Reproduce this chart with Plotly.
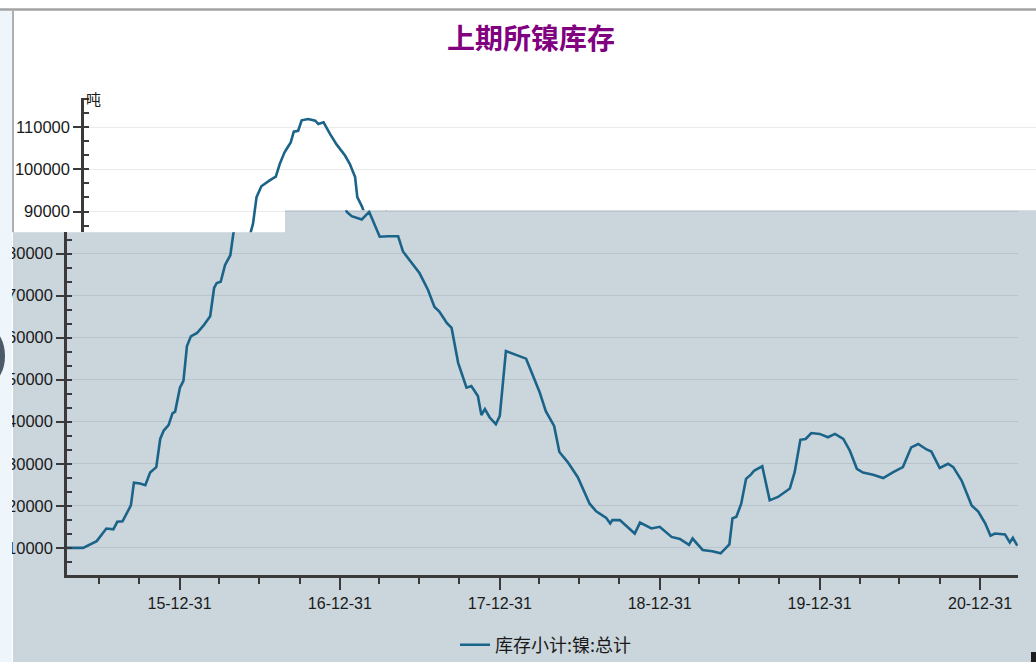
import pandas as pd
import plotly.graph_objects as go

# ---------------- data ----------------
dates = [
    "2015-04-17", "2015-05-25", "2015-06-25", "2015-07-17", "2015-08-02", "2015-08-11",
    "2015-08-23", "2015-09-01", "2015-09-11", "2015-09-18", "2015-10-02", "2015-10-14",
    "2015-10-25", "2015-11-08", "2015-11-17", "2015-11-25", "2015-12-06", "2015-12-15",
    "2015-12-21", "2016-01-01", "2016-01-09", "2016-01-17", "2016-01-26", "2016-02-09",
    "2016-02-24", "2016-03-10", "2016-03-19", "2016-03-25", "2016-04-03", "2016-04-13",
    "2016-04-25", "2016-05-02", "2016-05-08", "2016-05-16", "2016-05-27", "2016-06-15",
    "2016-06-29", "2016-07-08", "2016-07-19", "2016-08-02", "2016-08-09", "2016-08-19",
    "2016-08-27", "2016-09-11", "2016-09-27", "2016-10-04", "2016-10-16", "2016-10-31",
    "2016-11-15", "2016-12-04", "2016-12-15", "2016-12-27", "2017-01-01", "2017-01-12",
    "2017-01-16", "2017-01-27", "2017-02-19", "2017-03-08", "2017-04-01", "2017-04-20",
    "2017-05-13", "2017-05-24", "2017-06-12", "2017-07-01", "2017-07-20", "2017-08-04",
    "2017-08-15", "2017-09-01", "2017-09-12", "2017-09-27", "2017-10-16", "2017-10-27",
    "2017-11-11", "2017-11-19", "2017-11-27", "2017-12-08", "2017-12-22", "2017-12-31",
    "2018-01-14", "2018-01-31", "2018-03-01", "2018-03-20", "2018-04-01", "2018-04-15",
    "2018-05-04", "2018-05-16", "2018-06-04", "2018-06-27", "2018-07-24", "2018-08-08",
    "2018-08-31", "2018-09-09", "2018-09-14", "2018-10-01", "2018-11-04", "2018-11-16",
    "2018-12-12", "2018-12-31", "2019-01-27", "2019-02-15", "2019-03-08", "2019-03-16",
    "2019-04-08", "2019-04-30", "2019-05-19", "2019-06-08", "2019-06-15", "2019-06-24",
    "2019-07-05", "2019-07-16", "2019-07-27", "2019-08-04", "2019-08-22", "2019-09-08",
    "2019-09-27", "2019-10-24", "2019-11-04", "2019-11-17", "2019-11-29", "2019-12-12",
    "2019-12-31", "2020-01-19", "2020-02-04", "2020-02-23", "2020-03-09", "2020-03-25",
    "2020-04-08", "2020-05-01", "2020-05-24", "2020-06-16", "2020-07-08", "2020-07-27",
    "2020-08-12", "2020-08-31", "2020-09-11", "2020-09-30", "2020-10-19", "2020-10-31",
    "2020-11-19", "2020-12-12", "2020-12-27", "2021-01-12", "2021-01-24", "2021-02-03",
    "2021-02-26", "2021-03-09", "2021-03-16", "2021-03-26",
]
stock = [
    10000, 10000, 11600, 14600, 14400, 16200,
    16300, 18200, 20100, 25500, 25300, 24900,
    27900, 29200, 35900, 37900, 39200, 42000,
    42400, 48100, 49700, 58000, 60300, 61100,
    62900, 65100, 71800, 73000, 73300, 77300,
    79600, 84800, 87100, 93400, 96000, 97400,
    98300, 101300, 104100, 106400, 109000, 109200,
    111700, 112000, 111600, 110800, 111200, 108400,
    105900, 103300, 101300, 98200, 93400, 91100,
    89900, 88900, 88100, 89900, 84000, 84100,
    84100, 80500, 77800, 75300, 71400, 67300,
    66200, 63500, 62300, 54000, 48100, 48500,
    46100, 41600, 43000, 41000, 39400, 41400,
    56800, 56200, 55000, 50100, 47000, 42500,
    39000, 32800, 30400, 26800, 20500, 18700,
    17100, 15800, 16600, 16600, 13400, 16000,
    14600, 15000, 12600, 12100, 10700, 12200,
    9500, 9200, 8700, 10800, 17000, 17400,
    20500, 26400, 27400, 28400, 29400, 21300,
    22100, 24100, 28000, 35700, 35900, 37300,
    37100, 36300, 37100, 35900, 33100, 28800,
    27900, 27400, 26600, 28000, 29200, 33900,
    34700, 33400, 32900, 29000, 30000, 29200,
    26000, 20100, 18600, 15800, 12900, 13400,
    13200, 11300, 12400, 10500,
]
series_name = "库存小计:镍:总计"
title_text = "上期所镍库存"
unit_text = "吨"
major_tick_dates = ["2015-12-31", "2016-12-31", "2017-12-31", "2018-12-31", "2019-12-31", "2020-12-31"]
major_tick_labels = ["15-12-31", "16-12-31", "17-12-31", "18-12-31", "19-12-31", "20-12-31"]
minor_tick_dates = [f"{y}-{md}" for y in range(2015, 2022) for md in ("03-31", "06-30", "09-30")]
y_ticks = list(range(0, 120001, 10000))

# ---------------- layout geometry (pixels) ----------------
W, H = 1036, 664
X_AX, X_END, X_SPLIT, SHIFT = 67, 1018, 285, 17
Y_TOP, Y_BOT, Y_STEP_L, Y_STEP_R = 98, 577, 233, 211
T_REF = pd.Timestamp("2015-12-31")
PX_T_REF, PX_T_REF2 = 179.5, 980.0
PPD = (PX_T_REF2 - PX_T_REF) / (pd.Timestamp("2020-12-31") - T_REF).days
PY_10K, PY_110K = 549.5, 127.8
VPP = 100000 / (PY_10K - PY_110K)


def fx(px):
    return px / W


def fy(py):
    return 1 - py / H


def date_at(px, shift=0):
    return (T_REF + pd.Timedelta(days=(px - shift - PX_T_REF) / PPD)).strftime("%Y-%m-%d %H:%M")


def val_at(py):
    return 10000 + (PY_10K - py) * VPP


LINE_COLOR = "#1b6489"
AXIS_COLOR = "#3a3a3a"
TXT_COLOR = "#1a1a1a"
GRAY_BG = "#cbd5dc"
Y_TICK_FONT = dict(family="Liberation Sans, Arial, sans-serif", size=16.5, color=TXT_COLOR)
X_TICK_FONT = dict(family="Liberation Sans, Arial, sans-serif", size=16, color=TXT_COLOR)

fig = go.Figure()
panels = [
    ("x", "y", True),
    ("x2", "y2", False),
    ("x3", "y3", False),
    ("x4", "y4", False),
]
for xa, ya, leg in panels:
    fig.add_trace(go.Scatter(
        x=dates, y=stock, mode="lines", name=series_name,
        line=dict(color=LINE_COLOR, width=2.6),
        xaxis=xa, yaxis=ya, showlegend=leg, hoverinfo="x+y",
    ))

common_x = dict(type="date", tickvals=major_tick_dates, ticktext=major_tick_labels,
                showgrid=False, zeroline=False, tickfont=X_TICK_FONT,
                showline=True, linecolor=AXIS_COLOR, linewidth=2.5,
                ticks="outside", ticklen=12, tickwidth=2, tickcolor=AXIS_COLOR,
                minor=dict(tickvals=minor_tick_dates, ticks="outside", ticklen=6,
                           tickwidth=2, tickcolor=AXIS_COLOR, showgrid=False))

y_tick_style = dict(tickvals=y_ticks, tickformat="d", zeroline=False,
                    showline=True, linecolor=AXIS_COLOR, linewidth=2.5,
                    ticks="outside", ticklen=8, tickwidth=2, tickcolor=AXIS_COLOR,
                    tickfont=Y_TICK_FONT,
                    minor=dict(dtick=10000 / 3, tick0=0, ticks="inside", ticklen=5,
                               tickwidth=2, tickcolor=AXIS_COLOR, showgrid=False))

fig.update_layout(
    width=W, height=H,
    margin=dict(l=0, r=0, t=0, b=0),
    paper_bgcolor="white",
    plot_bgcolor="rgba(0,0,0,0)",
    showlegend=True,
    legend=dict(orientation="h", x=fx(455), y=fy(647), xanchor="left", yanchor="middle",
                bgcolor="rgba(0,0,0,0)",
                font=dict(family="Noto Sans CJK SC, sans-serif", size=18, color=TXT_COLOR)),
    # lower-left (gray) panel
    xaxis=dict(domain=[fx(X_AX), fx(X_SPLIT)], anchor="y",
               range=[date_at(X_AX), date_at(X_SPLIT)], **common_x),
    yaxis=dict(domain=[fy(Y_BOT), fy(Y_STEP_L)], anchor="x",
               range=[val_at(Y_BOT), val_at(Y_STEP_L)],
               showgrid=True, gridcolor="#b9c4cc", gridwidth=1, **y_tick_style),
    # lower-right (gray) panel
    xaxis2=dict(domain=[fx(X_SPLIT), fx(X_END)], anchor="y2",
                range=[date_at(X_SPLIT), date_at(X_END)], **common_x),
    yaxis2=dict(domain=[fy(Y_BOT), fy(Y_STEP_R)], anchor="x2",
                range=[val_at(Y_BOT), val_at(Y_STEP_R)],
                tickvals=y_ticks, showgrid=True, gridcolor="#b9c4cc", gridwidth=1,
                zeroline=False, showline=False, showticklabels=False, ticks=""),
    # upper-left (white) panel, shifted
    xaxis3=dict(domain=[fx(X_AX + SHIFT), fx(X_SPLIT)], anchor="y3", type="date",
                range=[date_at(X_AX + SHIFT, SHIFT), date_at(X_SPLIT, SHIFT)], visible=False),
    yaxis3=dict(domain=[fy(Y_STEP_L), fy(Y_TOP)], anchor="x3",
                range=[val_at(Y_STEP_L), val_at(Y_TOP)],
                showgrid=True, gridcolor="#ebebeb", gridwidth=1, **y_tick_style),
    # upper-right (white) panel, shifted
    xaxis4=dict(domain=[fx(X_SPLIT), 1.0], anchor="y4", type="date",
                range=[date_at(X_SPLIT, SHIFT), date_at(W, SHIFT)], visible=False),
    yaxis4=dict(domain=[fy(Y_STEP_R), fy(Y_TOP)], anchor="x4",
                range=[val_at(Y_STEP_R), val_at(Y_TOP)],
                tickvals=y_ticks, showgrid=True, gridcolor="#ebebeb", gridwidth=1,
                zeroline=False, showline=False, showticklabels=False, ticks=""),
)

gray_path = (f"M {fx(13)},{fy(Y_STEP_L)} L {fx(X_SPLIT)},{fy(Y_STEP_L)} "
             f"L {fx(X_SPLIT)},{fy(Y_STEP_R)} L 1,{fy(Y_STEP_R)} L 1,0 L {fx(13)},0 Z")
fig.add_shape(type="path", path=gray_path, xref="paper", yref="paper",
              fillcolor=GRAY_BG, line=dict(width=0), layer="below")
# left light strip (window edge)
fig.add_shape(type="rect", xref="paper", yref="paper", x0=0, x1=fx(12), y0=0, y1=fy(10),
              fillcolor="#eef6fb", line=dict(width=0), layer="above")
fig.add_shape(type="circle", xref="paper", yref="paper", x0=fx(-22), x1=fx(5),
              y0=fy(382), y1=fy(332), fillcolor="#4a5a66", line=dict(width=0), layer="above")
# window frame lines
fig.add_shape(type="line", xref="paper", yref="paper", x0=0, x1=1, y0=fy(9.5), y1=fy(9.5),
              line=dict(color="#a3a3a3", width=2.5), layer="above")
fig.add_shape(type="line", xref="paper", yref="paper", x0=fx(13), x1=fx(13), y0=fy(10), y1=fy(Y_STEP_L),
              line=dict(color="#b0b0b0", width=2), layer="above")
fig.add_shape(type="rect", xref="paper", yref="paper", x0=fx(1031), x1=1, y0=0, y1=fy(654),
              fillcolor="#1e1e1e", line=dict(width=0), layer="above")

fig.add_annotation(text=f"<b>{title_text}</b>", xref="paper", yref="paper",
                   x=fx(531), y=fy(37), xanchor="center", yanchor="middle", showarrow=False,
                   font=dict(family="Noto Sans CJK SC, sans-serif", size=28, color="#800080"))
fig.add_annotation(text=unit_text, xref="paper", yref="paper",
                   x=fx(84), y=fy(99), xanchor="left", yanchor="middle", showarrow=False,
                   font=dict(family="Noto Sans CJK SC, sans-serif", size=15, color=TXT_COLOR))

fig.write_html("out.html", config={"displayModeBar": False},
               post_script="document.body.style.margin='0px';")
